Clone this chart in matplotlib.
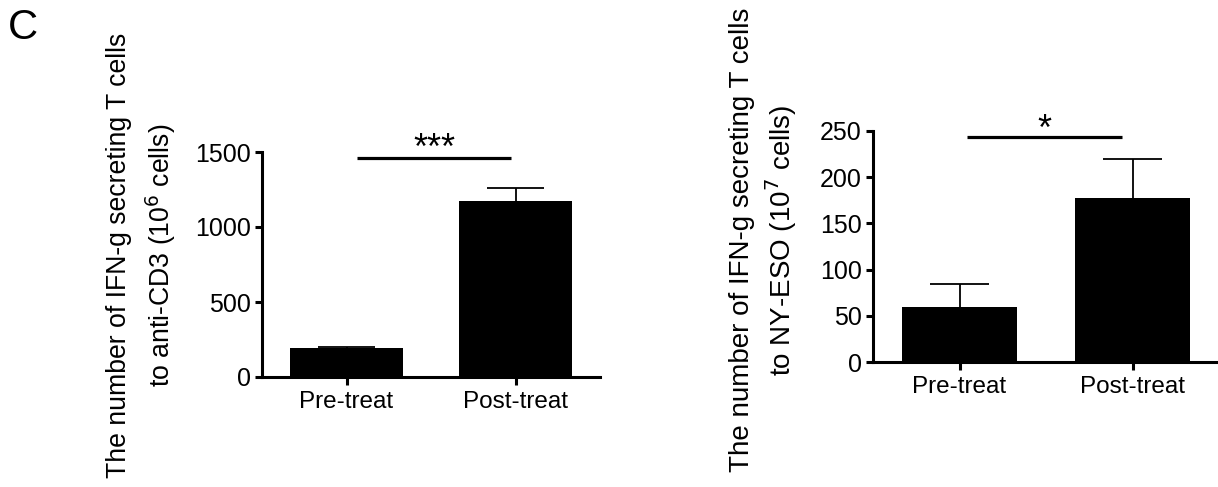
import matplotlib
matplotlib.use("Agg")
import matplotlib.pyplot as plt
import numpy as np

plt.rcParams['font.family'] = ['Liberation Sans', 'DejaVu Sans']

groups = ["Pre-treat", "Post-treat"]

# panel 1: anti-CD3
cd3_mean = [193, 1175]
cd3_err = [8, 85]
cd3_ticks = [0, 500, 1000, 1500]
cd3_label = "The number of IFN-g secreting T cells\nto anti-CD3 (10$^{6}$ cells)"

# panel 2: NY-ESO
eso_mean = [59, 178]
eso_err = [25, 42]
eso_ticks = [0, 50, 100, 150, 200, 250]
eso_label = "The number of IFN-g secreting T cells\nto NY-ESO (10$^{7}$ cells)"

W, H = 1218, 487
fig = plt.figure(figsize=(W / 100, H / 100), dpi=100)


def px_axes(x0, x1, ytop, ybot):
    return fig.add_axes([x0 / W, 1 - ybot / H, (x1 - x0) / W, (ybot - ytop) / H])


def draw_panel(ax, means, errs, ticks, sig_y, sig_x, star_y, stars):
    x = np.arange(len(groups))
    means = np.array(means)
    tops = means + np.array(errs)
    ax.bar(x, means, width=0.67, color="black", zorder=2)
    # upper-only error bars: stem + cap
    ax.vlines(x, means, tops, color="black", lw=1.3, zorder=1)
    ax.hlines(tops, x - 0.17, x + 0.17, color="black", lw=1.3, zorder=1)
    ax.set_xlim(-0.5, 1.5)
    ax.set_ylim(0, ticks[-1])
    ax.set_yticks(ticks)
    ax.set_xticks(x)
    ax.set_xticklabels(groups)
    for s in ["top", "right"]:
        ax.spines[s].set_visible(False)
    for s in ["left", "bottom"]:
        ax.spines[s].set_linewidth(2.2)
    ax.tick_params(axis="y", length=5, width=2.2, labelsize=18, pad=3)
    ax.tick_params(axis="x", length=6, width=2.2, labelsize=17.5, pad=4)
    ax.plot(sig_x, [sig_y, sig_y], color="black", lw=2.3, clip_on=False,
            solid_capstyle="butt")
    ax.text(np.mean(sig_x), star_y, stars, ha="center", va="baseline",
            fontsize=26, clip_on=False)


ax1 = px_axes(262, 600, 152, 377)
draw_panel(ax1, cd3_mean, cd3_err, cd3_ticks, 1460, [0.065, 0.976], 1455, "***")

ax2 = px_axes(873, 1219, 131, 362)
draw_panel(ax2, eso_mean, eso_err, eso_ticks, 243, [0.046, 0.94], 240, "*")

fig.text(142 / W, 1 - 255 / H, cd3_label, rotation=90, ha="center", va="center",
         multialignment="center", fontsize=19.2, linespacing=1.4)
fig.text(764 / W, 1 - 240 / H, eso_label, rotation=90, ha="center", va="center",
         multialignment="center", fontsize=20, linespacing=1.3)

fig.text(23 / W, 1 - 28 / H, "C", ha="center", va="center", fontsize=30)

fig.savefig("out.png", dpi=100)
